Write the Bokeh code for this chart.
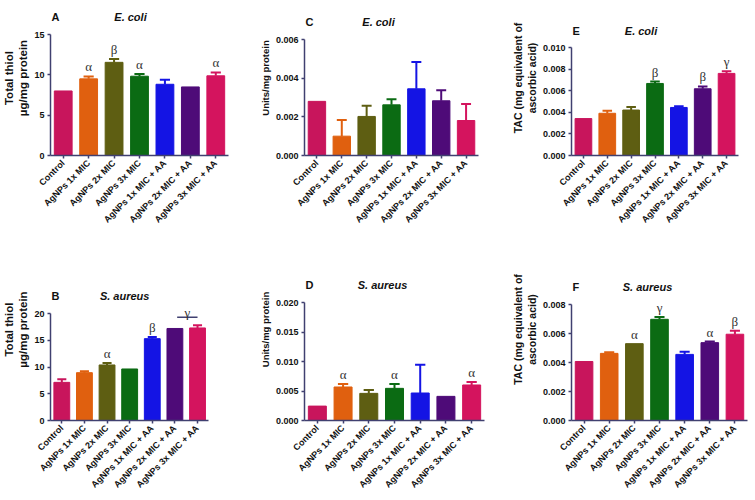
import numpy as np
from bokeh.plotting import figure
from bokeh.models import Range1d, FixedTicker, ColumnDataSource, LabelSet, Label
from bokeh.layouts import row, column
from bokeh.embed import file_html
from bokeh.resources import INLINE

# ---------------- data ----------------
categories = ["Control", "AgNPs 1x MIC", "AgNPs 2x MIC", "AgNPs 3x MIC",
              "AgNPs 1x MIC + AA", "AgNPs 2x MIC + AA", "AgNPs 3x MIC + AA"]
bar_colors = ["#c8155c", "#e0600f", "#5e5e12", "#0b6b13", "#1414e4", "#4e0b78", "#d4145e"]

# A: Total thiol, E. coli
a_values = [8.0, 9.5, 11.55, 9.83, 8.83, 8.5, 9.88]
a_errors = [0.0, 0.3, 0.4, 0.27, 0.55, 0.0, 0.42]
a_sig = ["", "α", "β", "α", "", "", "α"]
a_yticks = [0, 5, 10, 15]
a_yticklabels = ["0", "5", "10", "15"]

# B: Total thiol, S. aureus
b_values = [7.13, 8.94, 10.38, 9.63, 15.3, 17.2, 17.3]
b_errors = [0.57, 0.25, 0.37, 0.0, 0.3, 0.0, 0.5]
b_sig = ["", "", "α", "", "β", "", ""]
b_bracket_groups = [5, 6]
b_bracket_level = 19.3
b_bracket_text = "γ"
b_yticks = [0, 5, 10, 15, 20]
b_yticklabels = ["0", "5", "10", "15", "20"]

# C: Units/mg protein, E. coli
c_values = [0.0028, 0.0010, 0.00202, 0.00262, 0.00345, 0.00283, 0.00181]
c_errors = [0.0, 0.00084, 0.00055, 0.00029, 0.00139, 0.00055, 0.00085]
c_sig = ["", "", "", "", "", "", ""]
c_yticks = [0, 0.002, 0.004, 0.006]
c_yticklabels = ["0.000", "0.002", "0.004", "0.006"]

# D: Units/mg protein, S. aureus
d_values = [0.00244, 0.00568, 0.0046, 0.00545, 0.00466, 0.00409, 0.00602]
d_errors = [0.0, 0.00052, 0.00057, 0.00075, 0.00477, 0.0, 0.00051]
d_sig = ["", "α", "", "α", "", "", "α"]
d_yticks = [0, 0.005, 0.010, 0.015, 0.020]
d_yticklabels = ["0.000", "0.005", "0.010", "0.015", "0.020"]

# E: TAC, E. coli
e_values = [0.00342, 0.00391, 0.00421, 0.00667, 0.00445, 0.00618, 0.0076]
e_errors = [0.0, 0.00024, 0.00027, 0.00018, 0.0001, 0.00021, 0.00019]
e_sig = ["", "", "", "β", "", "β", "γ"]
e_yticks = [0, 0.002, 0.004, 0.006, 0.008, 0.010]
e_yticklabels = ["0.000", "0.002", "0.004", "0.006", "0.008", "0.010"]

# F: TAC, S. aureus
f_values = [0.00407, 0.00463, 0.0053, 0.00698, 0.00456, 0.00537, 0.00595]
f_errors = [0.0, 0.00007, 0.0, 0.00016, 0.00018, 0.00007, 0.00024]
f_sig = ["", "", "α", "γ", "", "α", "β"]
f_yticks = [0, 0.002, 0.004, 0.006, 0.008]
f_yticklabels = ["0.000", "0.002", "0.004", "0.006", "0.008"]

AXIS_COLOR = "#404070"
FONT = "Liberation Sans"
SERIF = "Liberation Serif"

# layout: (width, left border, right border) per column, (height, bottom border) per row
COLS = [(255, 47, 27), (250, 49, 21), (250, 66, 8)]
ROWS = [(238, 83), (262, 80)]


def make_panel(values, errors, sig, yticks, yticklabels, ylabel, letter, title,
               col, rowi, axis_w_px, axis_h_px, title_dx,
               ylabel_size="11.5px", bracket=None, title_dy=18):
    n = len(categories)
    xs = list(range(n))
    width, left, right = COLS[col]
    height, bottom = ROWS[rowi]
    frame_w = width - left - right
    frame_h = height - bottom
    ymax = yticks[-1]
    x_end = -0.5 + n * frame_w / axis_w_px
    y_end = ymax * frame_h / axis_h_px

    p = figure(width=width, height=height,
               x_range=Range1d(-0.5, x_end), y_range=Range1d(0, y_end),
               output_backend="svg", toolbar_location=None,
               min_border_left=left, min_border_right=right,
               min_border_top=0, min_border_bottom=bottom)
    p.outline_line_color = None
    p.xgrid.grid_line_color = None
    p.ygrid.grid_line_color = None
    p.background_fill_color = "white"
    p.border_fill_color = "white"

    src = ColumnDataSource(dict(x=xs, top=values, color=bar_colors))
    p.vbar(x="x", top="top", width=0.7, bottom=0, fill_color="color",
           line_color="color", line_width=1, source=src)

    ex = [i for i in xs if errors[i] > 0]
    ev = [values[i] for i in ex]
    eu = [values[i] + errors[i] for i in ex]
    ec = [bar_colors[i] for i in ex]
    err_src = ColumnDataSource(dict(x=ex, y0=ev, y1=eu, color=ec,
                                    xl=[i - 0.2 for i in ex], xr=[i + 0.2 for i in ex]))
    p.segment(x0="x", y0="y0", x1="x", y1="y1", line_color="color",
              line_width=2, source=err_src)
    p.segment(x0="xl", y0="y1", x1="xr", y1="y1", line_color="color",
              line_width=2, source=err_src)

    si = [i for i in xs if sig[i]]
    sig_src = ColumnDataSource(dict(x=si, y=[values[i] + errors[i] for i in si],
                                    text=[sig[i] for i in si]))
    p.add_layout(LabelSet(x="x", y="y", text="text", source=sig_src,
                          y_offset=5, text_align="center", text_baseline="alphabetic",
                          text_font=SERIF, text_font_size="13px",
                          text_color="#333333"))

    if bracket is not None:
        groups, level, btext = bracket
        x0b, x1b = groups[0] + 0.1, groups[1]
        p.segment(x0=[x0b], y0=[level], x1=[x1b], y1=[level],
                  line_color=AXIS_COLOR, line_width=1.5)
        p.add_layout(Label(x=(x0b + x1b) / 2, y=level, text=btext,
                           y_offset=5, text_align="center", text_baseline="alphabetic",
                           text_font=SERIF, text_font_size="13px",
                           text_color="#333333"))

    for ax in (p.xaxis[0], p.yaxis[0]):
        ax.axis_line_color = AXIS_COLOR
        ax.axis_line_width = 1.5
        ax.major_tick_line_color = AXIS_COLOR
        ax.major_tick_line_width = 1.5
        ax.major_tick_out = 3
        ax.major_tick_in = 0
        ax.minor_tick_line_color = None
        ax.major_label_text_font = FONT
        ax.major_label_text_font_style = "bold"
        ax.major_label_text_font_size = "9px"
        ax.major_label_text_color = "#111111"
        ax.major_label_standoff = 3

    p.xaxis.ticker = FixedTicker(ticks=xs)
    p.xaxis.major_label_overrides = {i: c for i, c in zip(xs, categories)}
    p.xaxis.major_label_orientation = np.pi / 4
    p.xaxis.bounds = (-0.5, n - 0.5)

    p.yaxis.ticker = FixedTicker(ticks=yticks)
    p.yaxis.major_label_overrides = {t: l for t, l in zip(yticks, yticklabels)}
    p.yaxis.bounds = (0, ymax)
    p.yaxis.axis_label = ylabel
    p.yaxis.axis_label_text_font = FONT
    p.yaxis.axis_label_text_font_style = "bold"
    p.yaxis.axis_label_text_font_size = ylabel_size
    p.yaxis.axis_label_text_color = "#111111"
    p.yaxis.axis_label_standoff = 2

    p.add_layout(Label(x=(n - 1) / 2, y=ymax, x_offset=title_dx, y_offset=title_dy,
                       text=title, text_align="center", text_baseline="middle",
                       text_font=FONT, text_font_style="bold italic",
                       text_font_size="11px", text_color="#111111"))
    p.add_layout(Label(x=-0.5, y=ymax, x_offset=1, y_offset=title_dy,
                       text=letter, text_align="left", text_baseline="middle",
                       text_font=FONT, text_font_style="bold",
                       text_font_size="11px", text_color="#111111"))
    return p


pA = make_panel(a_values, a_errors, a_sig, a_yticks, a_yticklabels,
                "Total thiol\nµg/mg protein", "A", "E. coli",
                0, 0, 181, 121, -9)
pC = make_panel(c_values, c_errors, c_sig, c_yticks, c_yticklabels,
                "Units/mg protein", "C", "E. coli",
                1, 0, 174, 116, -13, ylabel_size="9.5px")
pE = make_panel(e_values, e_errors, e_sig, e_yticks, e_yticklabels,
                "TAC (mg equivalent of\nascorbic acid)", "E", "E. coli",
                2, 0, 167, 108, -14, ylabel_size="10.5px", title_dy=17)
pB = make_panel(b_values, b_errors, b_sig, b_yticks, b_yticklabels,
                "Total thiol\nµg/mg protein", "B", "S. aureus",
                0, 1, 161, 107, -5,
                bracket=(b_bracket_groups, b_bracket_level, b_bracket_text))
pD = make_panel(d_values, d_errors, d_sig, d_yticks, d_yticklabels,
                "Units/mg protein", "D", "S. aureus",
                1, 1, 180, 118, -12, ylabel_size="9.5px")
pF = make_panel(f_values, f_errors, f_sig, f_yticks, f_yticklabels,
                "TAC (mg equivalent of\nascorbic acid)", "F", "S. aureus",
                2, 1, 176, 116, -12, ylabel_size="10.5px")

layout = column(row(pA, pC, pE), row(pB, pD, pF))

with open("out.html", "w") as fh_out:
    fh_out.write(file_html(layout, INLINE))
